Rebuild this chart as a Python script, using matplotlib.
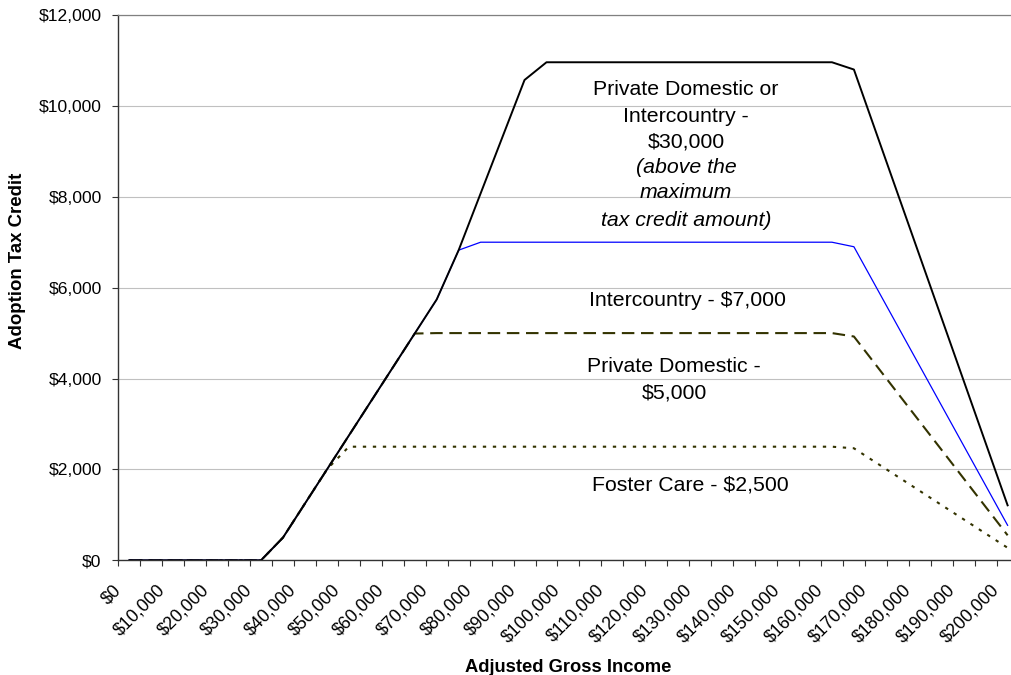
import matplotlib
matplotlib.use("Agg")
import matplotlib.pyplot as plt
import matplotlib.transforms as mtransforms
from matplotlib.ticker import FuncFormatter

plt.rcParams['font.family'] = ['Liberation Sans', 'DejaVu Sans']

# values (income -> credit, at the break points)
inc_both = [0, 30000, 35000, 70000, 75000, 90000, 95000, 160000, 165000, 200000]
cr_both = [0, 0, 500, 5740, 6825, 10570, 10960, 10960, 10800, 1210]

inc_inter = [0, 30000, 35000, 70000, 75000, 80000, 160000, 165000, 200000]
cr_inter = [0, 0, 500, 5740, 6825, 7000, 7000, 6900, 770]

inc_dom = [0, 30000, 35000, 65000, 70000, 160000, 165000, 200000]
cr_dom = [0, 0, 500, 4990, 5000, 5000, 4925, 550]

inc_foster = [0, 30000, 35000, 45000, 50000, 160000, 165000, 200000]
cr_foster = [0, 0, 500, 2000, 2500, 2500, 2465, 275]

label_incomes = list(range(0, 200001, 10000))
yticks = list(range(0, 12001, 2000))

W, H = 1011, 675
fig = plt.figure(figsize=(W / 100, H / 100), dpi=100)
left, right, top, bottom = 118.3, 1018.6, 15, 560.3
ax = fig.add_axes([left / W, 1 - bottom / H, (right - left) / W, (bottom - top) / H])

olive = '#333300'
ax.plot(inc_foster, cr_foster, color=olive, lw=1.5, dashes=(1.6, 3.2), zorder=3)
ax.plot(inc_dom, cr_dom, color=olive, lw=1.5, dashes=(6.0, 3.2), zorder=4)
ax.plot(inc_inter, cr_inter, color='#0000ff', lw=0.9, zorder=5)
ax.plot(inc_both, cr_both, color='black', lw=1.4, zorder=6)

ax.set_xlim(-2500, 202500)
ax.set_ylim(0, 12000)

# category boundaries get tick marks, category centres get labels
ax.set_xticks([-2500 + 5000 * k for k in range(41)])
ax.set_xticklabels([])
ax.set_xticks(label_incomes, minor=True)
ax.set_xticklabels(['${:,}'.format(v) for v in label_incomes], minor=True,
                   rotation=45, ha='right', va='center', rotation_mode='anchor',
                   fontsize=12.8)
ax.tick_params(axis='x', which='major', direction='out', length=4, width=0.8, color='#333333')
ax.tick_params(axis='x', which='minor', length=0, pad=14)
offset = mtransforms.ScaledTranslation(-11 / 100, -8 / 100, fig.dpi_scale_trans)
for lab in ax.get_xticklabels(minor=True):
    lab.set_transform(lab.get_transform() + offset)

ax.set_yticks(yticks)
ax.yaxis.set_major_formatter(FuncFormatter(lambda v, p: '${:,}'.format(int(v))))
ax.tick_params(axis='y', direction='out', length=4, width=0.8, color='#333333',
               labelsize=12.6, pad=8)

ax.grid(axis='y', color='#c0c0c0', lw=0.8)
ax.set_axisbelow(True)
for s in ['left', 'bottom']:
    ax.spines[s].set_color('#333333')
    ax.spines[s].set_linewidth(1.0)
ax.spines['top'].set_color('#808080')
ax.spines['top'].set_linewidth(0.9)
ax.spines['right'].set_visible(False)

fs = 15.3
ax.text(126800, 10236, 'Private Domestic or', ha='center', va='baseline', fontsize=fs)
ax.text(126800, 9648, 'Intercountry -', ha='center', va='baseline', fontsize=fs)
ax.text(126800, 9085, '$30,000', ha='center', va='baseline', fontsize=fs)
ax.text(126800, 8513, '(above the', ha='center', va='baseline', fontsize=fs, style='italic')
ax.text(126800, 7963, 'maximum', ha='center', va='baseline', fontsize=fs, style='italic')
ax.text(126800, 7360, 'tax credit amount)', ha='center', va='baseline', fontsize=fs, style='italic')
ax.text(127000, 5594, 'Intercountry - $7,000', ha='center', va='baseline', fontsize=fs)
ax.text(124100, 4149, 'Private Domestic -', ha='center', va='baseline', fontsize=fs)
ax.text(124100, 3570, '$5,000', ha='center', va='baseline', fontsize=fs)
ax.text(127700, 1546, 'Foster Care - $2,500', ha='center', va='baseline', fontsize=fs)

fig.text(18 / W, 1 - 261 / H, 'Adoption Tax Credit', rotation=90, ha='center', va='center',
         fontsize=13.4, fontweight='bold')
fig.text(568 / W, 1 - 672 / H, 'Adjusted Gross Income', ha='center', va='baseline',
         fontsize=13.2, fontweight='bold')

fig.savefig('out.png', dpi=100)
